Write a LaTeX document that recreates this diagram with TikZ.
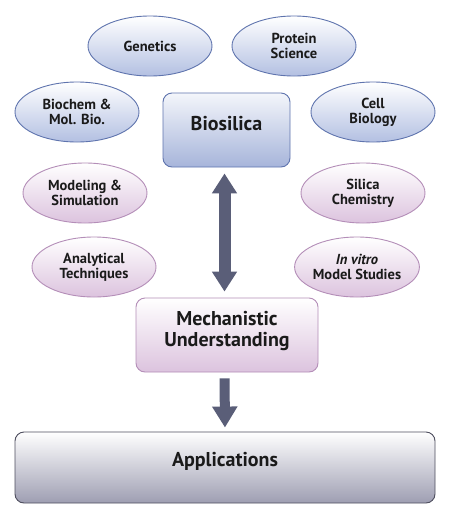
\documentclass[tikz,border=0pt]{standalone}
\usepackage{fontspec}
\setmainfont{PT Sans}
\usetikzlibrary{shapes.geometric,arrows.meta}
\definecolor{blueedge}{HTML}{5F74AE}
\definecolor{bluefill}{HTML}{B3C0E2}
\definecolor{pinkedge}{HTML}{B48EB8}
\definecolor{pinkfill}{HTML}{DCC3DE}
\definecolor{arrowcol}{HTML}{5A5E78}
\definecolor{appedge}{HTML}{4E4E5E}
\definecolor{appfill}{HTML}{9E9EB2}
\definecolor{txt}{HTML}{1A1A1A}
\tikzset{
  blueell/.style={ellipse, draw=blueedge, line width=0.9pt, top color=white, bottom color=bluefill,
    minimum width=124pt, minimum height=60pt, inner sep=0pt, align=center,
    font=\fontsize{14.5}{15}\selectfont\bfseries, text=txt},
  pinkell/.style={blueell, draw=pinkedge, bottom color=pinkfill},
  bigbox/.style={rectangle, rounded corners=9pt, line width=0.9pt, align=center, inner sep=0pt,
    font=\fontsize{20}{21}\selectfont\bfseries, text=txt},
  bigarrow/.style={draw=arrowcol, line width=12pt},
}
\begin{document}
\begin{tikzpicture}[x=1pt,y=-1pt]
\useasboundingbox (0,0) rectangle (450,520);
\fill[white] (0,0) rectangle (450,520);
\node[blueell] (gen) at (150,46) {Genetics};
\node[blueell] (prot) at (294,46) {Protein\\Science};
\node[blueell] (bioc) at (77,112) {Biochem \&\\Mol. Bio.};
\node[blueell] (cell) at (373,112) {Cell\\Biology};
\node[pinkell] (model) at (85,193) {Modeling \&\\Simulation};
\node[pinkell] (silica) at (363,193) {Silica\\Chemistry};
\node[pinkell] (anal) at (94,267) {Analytical\\Techniques};
\node[pinkell] (invitro) at (357,267) {\textit{In vitro}\\Model Studies};
\node[bigbox, draw=blueedge, top color=white!85!bluefill, bottom color=bluefill!85!blueedge,
  minimum width=127pt, minimum height=74pt, text depth=14pt] (bio) at (226.5,130) {Biosilica};
\node[bigbox, draw=pinkedge, top color=white, bottom color=pinkfill,
  minimum width=182pt, minimum height=74pt] (mech) at (227,335) {Mechanistic\\Understanding\\[-8pt]\mbox{}};
\node[bigbox, draw=appedge, top color=white, bottom color=appfill,
  minimum width=420pt, minimum height=71pt, text depth=17pt] (app) at (225,467.5) {Applications};
\draw[bigarrow, {Triangle[width=24pt,length=20pt]}-{Triangle[width=24pt,length=20pt]},
  shorten <=6pt, shorten >=6pt] ([xshift=-2pt]bio.south) -- ([xshift=-2.5pt]mech.north);
\draw[bigarrow, line width=10pt, -{Triangle[width=24pt,length=21pt]},
  shorten <=6pt, shorten >=4pt] ([xshift=-2.5pt]mech.south) -- ([xshift=0pt]app.north);
\end{tikzpicture}
\end{document}
